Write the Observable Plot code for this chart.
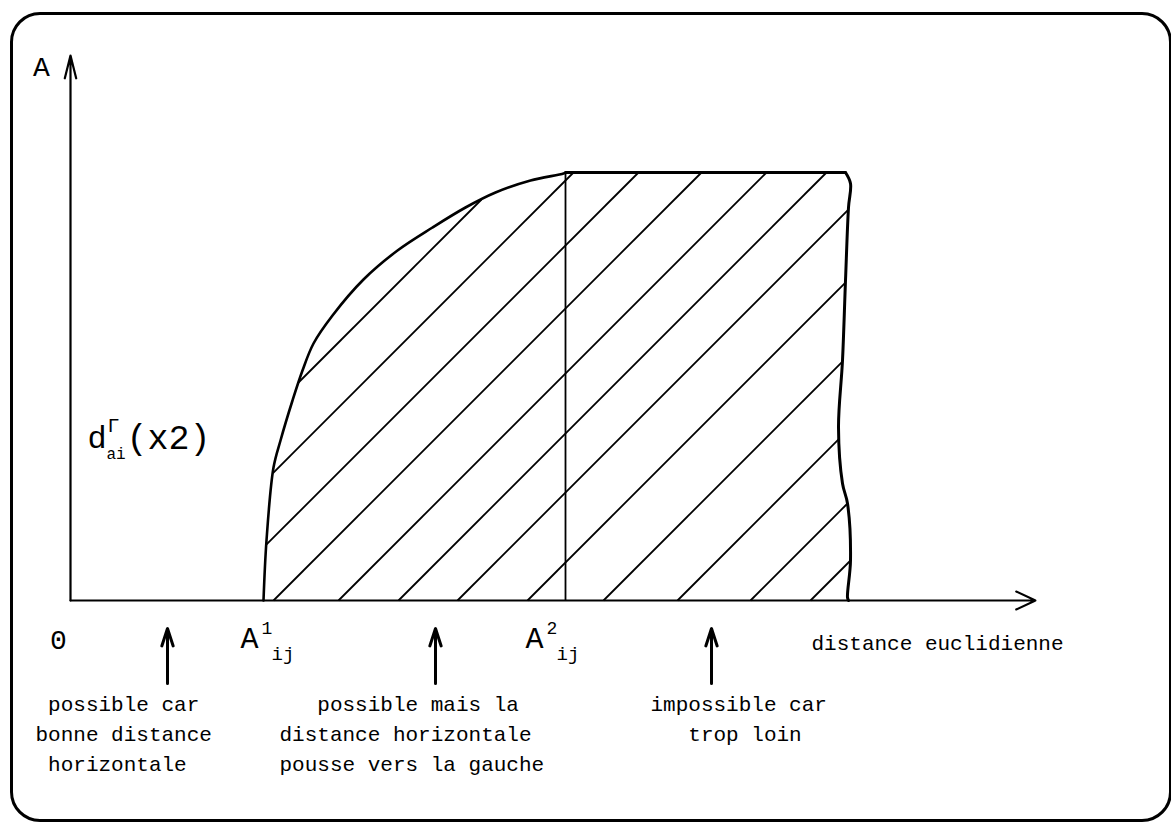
<!DOCTYPE html>
<html>
<head>
<meta charset="utf-8">
<script src="https://cdn.jsdelivr.net/npm/d3@7"></script>
<script src="https://cdn.jsdelivr.net/npm/@observablehq/plot@0.6"></script>
<style>
html, body { margin: 0; padding: 0; background: #fff; }
#wrap { position: relative; width: 1171px; height: 822px; overflow: hidden; }
#frame { position: absolute; left: 10px; top: 12px; width: 1162px; height: 810px; border: 3px solid #000; border-radius: 30px; box-sizing: border-box; pointer-events: none; }
#wrap svg { position: absolute; left: 0; top: 0; }
svg text, svg tspan { white-space: pre; }
</style>
</head>
<body>
<div id="wrap"><div id="frame"></div></div>
<script>
// ---- data (units along the two axes, origin at 0) ----
const xAxisMax = 965;
const yAxisMax = 545;
const a1 = 193;            // A1_ij
const a2 = 495;            // A2_ij
const plateau = 428;       // top level of the region

// rising boundary between A1 and A2
const curveX = [193, 196, 203, 210, 222, 232, 243, 262, 293, 327, 362, 395, 425, 460, 493, 495];
const curveY = [0, 60, 133, 160, 200, 230, 257, 285, 321, 350, 373, 393, 408, 420, 427, 428];
// flat top
const topX = [495, 775];
const topY = [428, 428];
// hand-drawn right edge (top to bottom)
const rightX = [775, 780, 778, 775, 772, 768, 772, 777, 780, 777, 778];
const rightY = [428, 417, 393, 320, 240, 173, 117, 97, 40, 3, 0];
// hatch lines x - y = k
const hatchK = [10, 75, 140, 203, 268, 328, 387, 457, 533, 607, 680, 740];

// labels
const yAxisName = "A";
const originLabel = "0";
const xAxisName = "distance euclidienne";
const markNames = ["A", "A"];
const markSups = ["1", "2"];
const markSub = "ij";
const markLabelAt = [188, 473];
const dName = "d", dSup = "Γ", dSub = "ai", dTail = "(x2)";
const dLevel = 163;
const noteArrowAt = [97, 365, 641];
const noteArrowFrom = -83, noteArrowTo = -28;
const noteTexts = [
  " possible car\nbonne distance\n horizontale",
  "   possible mais la\ndistance horizontale\npousse vers la gauche",
  "impossible car\n   trop loin"
];
const noteAt = [-35, 209, 580];
const noteTop = -89;

// ---- derived tables ----
const curvePts = curveX.map((x, i) => ({x, y: curveY[i]}));
const topPts = topX.map((x, i) => ({x, y: topY[i]}));
const rightPts = rightX.map((x, i) => ({x, y: rightY[i]}));
const poly = [...curvePts.map(d => [d.x, d.y]), ...rightPts.map(d => [d.x, d.y])];

function hatchSegment(k) {
  const pts = [];
  for (let i = 0; i < poly.length; i++) {
    const p = poly[i], q = poly[(i + 1) % poly.length];
    const fp = p[0] - p[1] - k, fq = q[0] - q[1] - k;
    if ((fp <= 0 && fq > 0) || (fp > 0 && fq <= 0)) {
      const t = fp / (fp - fq);
      pts.push([p[0] + t * (q[0] - p[0]), p[1] + t * (q[1] - p[1])]);
    }
  }
  pts.sort((a, b) => a[0] - b[0]);
  return {x1: pts[0][0], y1: pts[0][1], x2: pts[pts.length - 1][0], y2: pts[pts.length - 1][1]};
}
const hatch = hatchK.map(hatchSegment);

const font = "'Liberation Mono', 'Courier New', monospace";

const plot = Plot.plot({
  width: 1171,
  height: 822,
  marginLeft: 70, marginRight: 0, marginTop: 0, marginBottom: 222,
  x: {domain: [0, 1101], axis: null},
  y: {domain: [0, 600], axis: null},
  style: {fontFamily: font, background: "transparent", overflow: "visible", color: "#000"},
  marks: [
    Plot.link(hatch, {x1: "x1", y1: "y1", x2: "x2", y2: "y2", stroke: "#000", strokeWidth: 1.8}),
    Plot.ruleX([a2], {x: d => d, y1: () => 0, y2: () => plateau, stroke: "#000", strokeWidth: 1.8}),
    Plot.line(curvePts, {x: "x", y: "y", curve: "catmull-rom", stroke: "#000", strokeWidth: 2.6}),
    Plot.line(topPts, {x: "x", y: "y", stroke: "#000", strokeWidth: 3}),
    Plot.line(rightPts, {x: "x", y: "y", curve: "catmull-rom", stroke: "#000", strokeWidth: 3}),
    Plot.arrow([0], {x1: () => 0, y1: () => 0, x2: () => xAxisMax, y2: () => 0, stroke: "#000", strokeWidth: 2, headLength: 16, headAngle: 50}),
    Plot.arrow([0], {x1: () => 0, y1: () => 0, x2: () => 0, y2: () => yAxisMax, stroke: "#000", strokeWidth: 2.2, headLength: 16, headAngle: 28}),
    Plot.arrow(noteArrowAt, {x1: d => d, x2: d => d, y1: () => noteArrowFrom, y2: () => noteArrowTo, stroke: "#000", strokeWidth: 3, headLength: 15, headAngle: 36}),
    Plot.text([yAxisName], {x: () => -29, y: () => 533, text: d => d, fontSize: 28}),
    Plot.text([originLabel], {x: () => -12, y: () => -40, text: d => d, fontSize: 28}),
    Plot.text([xAxisName], {x: () => 741, y: () => -43, text: d => d, fontSize: 21, textAnchor: "start"}),
    Plot.text(markNames, {x: (d, i) => markLabelAt[i], y: () => -38, text: d => d, fontSize: 30, textAnchor: "end"}),
    Plot.text(markSups, {x: (d, i) => markLabelAt[i], y: () => -36, text: d => d, fontSize: 18, textAnchor: "start", dx: 3, dy: -8}),
    Plot.text(markLabelAt, {x: d => d, y: () => -53, text: () => markSub, fontSize: 19, textAnchor: "start", dx: 13}),
    Plot.text([dName], {x: () => 17, y: () => dLevel, text: d => d, fontSize: 32, textAnchor: "start"}),
    Plot.text([dSup], {x: () => 37, y: () => dLevel, text: d => d, fontSize: 20, textAnchor: "start", dy: -12}),
    Plot.text([dSub], {x: () => 36, y: () => dLevel, text: d => d, fontSize: 16, textAnchor: "start", dy: 16}),
    Plot.text([dTail], {x: () => 56, y: () => dLevel, text: d => d, fontSize: 35, textAnchor: "start"}),
    Plot.text(noteTexts, {x: (d, i) => noteAt[i], y: () => noteTop, text: d => d, fontSize: 21, lineHeight: 30 / 21, textAnchor: "start", lineAnchor: "top"})
  ]
});
document.getElementById("wrap").prepend(plot);
</script>
</body>
</html>
